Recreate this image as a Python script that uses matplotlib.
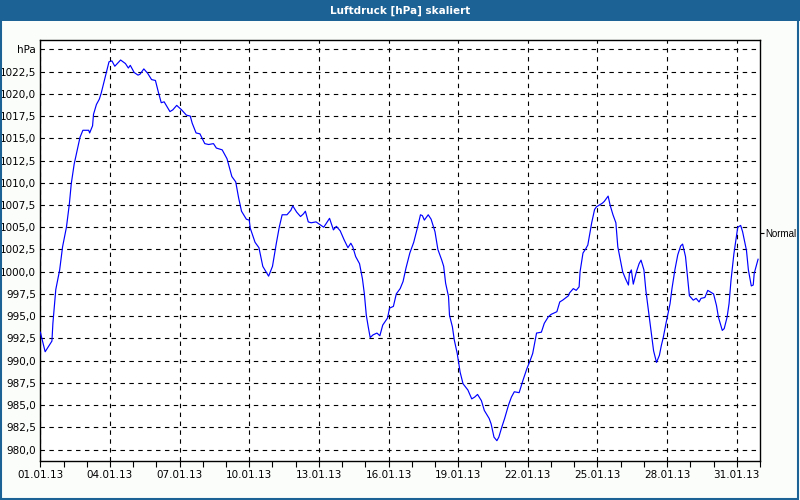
import matplotlib
matplotlib.use("Agg")
import matplotlib.pyplot as plt
from matplotlib.patches import Rectangle
from matplotlib.ticker import MultipleLocator, FixedLocator

# ---------------- data ----------------
TITLE = "Luftdruck [hPa] skaliert"
UNIT = "hPa"
NORMAL_LABEL = "Normal"
NORMAL_VALUE = 1004.4

# hours since 01.01.13 00:00
hours = [0, 5, 12, 13, 16, 20, 23, 27, 30, 32, 35, 38, 41, 44, 50, 51, 54, 55, 58, 61,
         63, 66, 69, 71, 74, 77, 83, 88, 91, 93, 97, 101, 103, 107, 111, 115, 119, 122, 125, 128,
         134, 137, 141, 146, 151, 155, 157, 161, 165, 170, 174, 179, 182, 188, 193, 198, 202, 205, 208, 213,
         216, 217, 222, 226, 230, 236, 240, 244, 247, 250, 255, 259, 261, 265, 269, 272, 274, 277, 280, 285,
         289, 293, 296, 299, 303, 306, 310, 314, 318, 321, 323, 326, 330, 333, 335, 337, 339, 341, 344, 348,
         351, 354, 359, 361, 365, 368, 372, 375, 378, 382, 386, 390, 393, 395, 397, 401, 404, 408, 411, 415,
         417, 419, 422, 423, 426, 428, 431, 434, 437, 442, 446, 449, 452, 456, 459, 464, 466, 469, 472, 474,
         477, 480, 484, 487, 490, 495, 499, 503, 506, 509, 513, 518, 521, 525, 528, 534, 537, 540, 546, 547,
         551, 554, 557, 558, 561, 564, 566, 570, 573, 575, 581, 583, 587, 589, 592, 595, 597, 600, 602, 605,
         608, 609, 611, 613, 616, 619, 621, 624, 626, 629, 632, 634, 637, 640, 642, 644, 647, 651, 653, 656,
         659, 662, 664, 667, 669, 671, 675, 678, 681, 683, 687, 690, 693, 696, 699, 701, 705, 707, 710, 712,
         714, 717, 719, 721, 724, 726, 730, 732, 735, 737, 738, 742]

pressure = [993.2, 991.0, 992.2, 994.2, 998.0, 1000.2, 1002.8, 1005.0, 1007.6, 1009.9, 1012.1, 1013.6, 1015.1, 1015.9, 1015.9, 1015.6, 1016.4, 1017.7, 1018.8, 1019.4,
            1020.1, 1021.4, 1022.7, 1023.6, 1023.7, 1023.1, 1023.8, 1023.4, 1022.9, 1023.2, 1022.4, 1022.1, 1022.2, 1022.8, 1022.3, 1021.6, 1021.5, 1020.2, 1019.0, 1019.1,
            1018.0, 1018.2, 1018.7, 1018.2, 1017.6, 1017.5, 1016.7, 1015.6, 1015.5, 1014.4, 1014.3, 1014.4, 1013.9, 1013.7, 1012.7, 1010.7, 1010.1, 1008.3, 1006.8, 1005.9,
            1005.8, 1004.9, 1003.3, 1002.7, 1000.6, 999.5, 1000.6, 1003.2, 1005.0, 1006.4, 1006.4, 1006.9, 1007.4, 1006.7, 1006.2, 1006.5, 1006.8, 1005.6, 1005.5, 1005.6,
            1005.3, 1005.0, 1005.5, 1006.0, 1004.7, 1005.1, 1004.6, 1003.6, 1002.7, 1003.2, 1002.8, 1001.7, 1000.9, 999.2, 997.5, 995.1, 993.8, 992.6, 992.9, 993.1,
            992.8, 994.0, 994.8, 995.9, 996.1, 997.5, 998.1, 998.9, 1000.4, 1002.1, 1003.3, 1005.0, 1006.4, 1006.3, 1005.8, 1006.4, 1005.9, 1004.5, 1002.5, 1001.3,
            1000.6, 998.7, 997.2, 995.1, 993.8, 992.3, 990.8, 988.7, 987.4, 986.7, 985.7, 985.9, 986.2, 985.5, 984.4, 983.5, 982.9, 981.4, 981.0, 981.4,
            982.5, 983.5, 985.0, 985.9, 986.5, 986.4, 987.8, 989.1, 989.9, 990.8, 993.1, 993.2, 994.2, 994.9, 995.2, 995.5, 996.6, 996.8, 997.3, 997.6,
            998.1, 997.9, 998.3, 1000.0, 1002.1, 1002.6, 1003.0, 1005.5, 1007.0, 1007.3, 1007.7, 1007.9, 1008.5, 1007.5, 1006.4, 1005.5, 1002.8, 1001.1, 1000.0, 999.2,
            998.5, 999.8, 1000.2, 998.6, 999.9, 1000.9, 1001.3, 1000.2, 997.9, 995.3, 992.8, 991.1, 989.8, 990.6, 991.7, 992.6, 994.3, 996.4, 998.1, 1000.2,
            1001.9, 1002.9, 1003.1, 1001.7, 999.5, 997.3, 996.8, 997.0, 996.6, 997.0, 997.1, 997.9, 997.7, 997.5, 996.2, 994.9, 993.4, 993.6, 994.9, 996.4,
            999.0, 1002.0, 1003.5, 1005.0, 1005.2, 1004.5, 1002.4, 1000.2, 998.4, 998.5, 999.8, 1001.4]

x_tick_labels = ["01.01.13", "04.01.13", "07.01.13", "10.01.13", "13.01.13", "16.01.13",
                 "19.01.13", "22.01.13", "25.01.13", "28.01.13", "31.01.13"]
y_tick_values = [980.0, 982.5, 985.0, 987.5, 990.0, 992.5, 995.0, 997.5, 1000.0, 1002.5,
                 1005.0, 1007.5, 1010.0, 1012.5, 1015.0, 1017.5, 1020.0, 1022.5, 1025.0]

# ---------------- figure ----------------
BAR = "#1d6294"
FONT = "DejaVu Sans"
fig = plt.figure(figsize=(8, 5), dpi=100, facecolor="#fbfdfb")

# title bar and frame
fig.patches.append(Rectangle((0, 0.958), 1, 0.042, transform=fig.transFigure,
                             facecolor=BAR, edgecolor="none", zorder=0))
fig.patches.append(Rectangle((0.001, 0.002), 0.997, 0.996, transform=fig.transFigure,
                             facecolor="none", edgecolor=BAR, linewidth=1.5, zorder=1))
fig.text(0.5, 0.979, TITLE, ha="center", va="center", color="white",
         fontsize=7.5, fontweight="bold", family=FONT)

ax = fig.add_axes([0.0504, 0.0786, 0.8996, 0.8414])
ax.set_facecolor("white")
ax.plot(hours, pressure, color="#0000ff", linewidth=0.85, zorder=3)

ax.set_xlim(0, 744)
ax.set_ylim(978.75, 1026.05)

ax.xaxis.set_major_locator(FixedLocator([i * 72 for i in range(len(x_tick_labels))]))
ax.set_xticklabels(x_tick_labels)
ax.xaxis.set_minor_locator(MultipleLocator(24))
ax.set_yticks(y_tick_values)
ax.set_yticklabels([f"{v:.1f}".replace(".", ",") for v in y_tick_values[:-1]] + [UNIT])

ax.tick_params(axis="x", which="both", direction="out", length=4, width=0.8,
               pad=3, labelsize=7.5, colors="black")
ax.tick_params(axis="y", which="both", length=0, pad=3, labelsize=7.5)
for lab in ax.get_xticklabels() + ax.get_yticklabels():
    lab.set_family(FONT)

ax.grid(True, which="major", color="black", linestyle=(0, (4, 4)), linewidth=0.8)
for s in ax.spines.values():
    s.set_color("black")
    s.set_linewidth(1.0)

# right-hand "Normal" marker
ax2 = ax.twinx()
ax2.set_ylim(ax.get_ylim())
ax2.set_yticks([NORMAL_VALUE])
ax2.set_yticklabels([NORMAL_LABEL], family="Liberation Sans")
ax2.tick_params(axis="y", direction="out", length=3, width=0.8, pad=1, labelsize=7)
for s in ax2.spines.values():
    s.set_visible(False)

fig.savefig("out.png", dpi=100, facecolor=fig.get_facecolor())
